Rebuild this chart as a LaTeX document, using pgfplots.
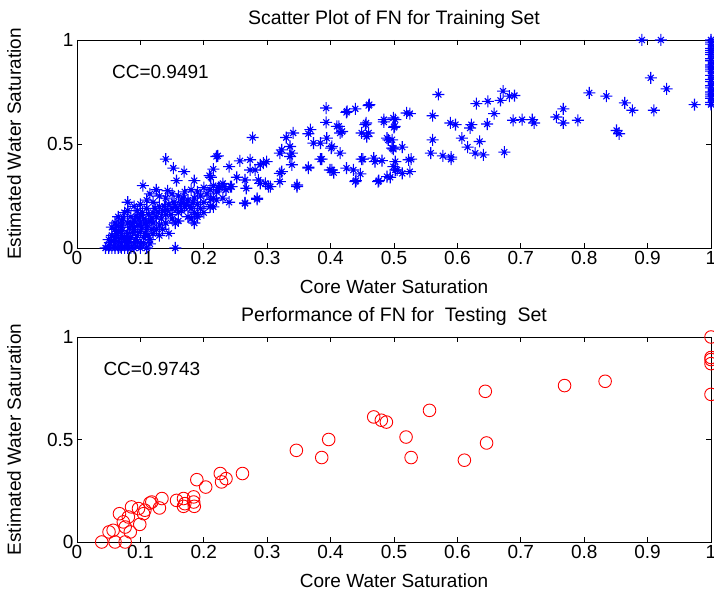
\documentclass[border=0pt]{standalone}
\usepackage{fontspec}
\setmainfont{Liberation Sans}
\usepackage{pgfplots}
\pgfplotsset{compat=1.18}
\definecolor{mblue}{rgb}{0,0,1}
\definecolor{mred}{rgb}{1,0,0}

% MATLAB style asterisk: a plus with a shorter cross on top
\pgfdeclareplotmark{mstar}{%
  \pgfpathmoveto{\pgfqpoint{-\pgfplotmarksize}{0pt}}%
  \pgfpathlineto{\pgfqpoint{\pgfplotmarksize}{0pt}}%
  \pgfpathmoveto{\pgfqpoint{0pt}{-\pgfplotmarksize}}%
  \pgfpathlineto{\pgfqpoint{0pt}{\pgfplotmarksize}}%
  \pgfpathmoveto{\pgfqpoint{-0.5\pgfplotmarksize}{-0.5\pgfplotmarksize}}%
  \pgfpathlineto{\pgfqpoint{0.5\pgfplotmarksize}{0.5\pgfplotmarksize}}%
  \pgfpathmoveto{\pgfqpoint{-0.5\pgfplotmarksize}{0.5\pgfplotmarksize}}%
  \pgfpathlineto{\pgfqpoint{0.5\pgfplotmarksize}{-0.5\pgfplotmarksize}}%
  \pgfusepathqstroke}

\pgfplotsset{
  mstyle/.style={
    scale only axis, width=634pt, clip=false,
    xmin=0, xmax=1, ymin=0, ymax=1,
    xtick={0,0.1,...,1}, ytick={0,0.5,1},
    tick align=inside, major tick length=5pt,
    axis line style={line width=0.8pt},
    every tick/.style={line width=0.8pt, black},
    font=\fontsize{19}{21}\selectfont,
    /pgf/number format/assume math mode=true,
    xticklabel style={font=\fontsize{19}{21}\selectfont},
    yticklabel style={font=\fontsize{19}{21}\selectfont},
    every axis title shift=0pt,
    title style={at={(axis description cs:0.5,1)}, anchor=base, yshift=15pt,
      font=\fontsize{19.5}{21}\selectfont},
    xlabel style={at={(axis description cs:0.5,0)}, anchor=base, yshift=-46pt},
    ylabel style={at={(axis description cs:0,0.5)}, anchor=base, yshift=56pt},
    xlabel={Core Water Saturation},
    ylabel={Estimated Water Saturation},
  }
}

\begin{document}
\begin{tikzpicture}
\begin{axis}[mstyle, at={(77pt,345pt)}, anchor=south west, height=208pt,
  title={Scatter Plot of FN for Training Set}]
\addplot[only marks, mark=mstar, mark size=6pt, mblue, line width=1.1pt] coordinates {
(0.045,0) (0.05,0) (0.055,0) (0.06,0) (0.065,0) (0.07,0) (0.075,0) (0.08,0)
(0.085,0) (0.09,0) (0.1,0) (0.11,0) (0.155,0) (0.05,0.01) (0.06,0.015) (0.07,0.02)
(0.08,0.01) (0.09,0.02) (0.1,0.015) (0.115,0.02)
(0.05,0.04) (0.055,0.06) (0.06,0.05) (0.065,0.08) (0.07,0.06) (0.075,0.04) (0.08,0.07)
(0.085,0.05) (0.09,0.09) (0.095,0.06) (0.1,0.08) (0.105,0.05) (0.11,0.1) (0.12,0.07)
(0.125,0.09) (0.13,0.06) (0.06,0.09) (0.07,0.1) (0.065,0.03) (0.115,0.04)
(0.052,0.025) (0.058,0.035) (0.062,0.07) (0.068,0.045) (0.072,0.085) (0.078,0.055)
(0.082,0.03) (0.088,0.075) (0.092,0.04) (0.096,0.11) (0.102,0.1) (0.108,0.07)
(0.112,0.06) (0.118,0.09) (0.055,0.1) (0.063,0.11) (0.073,0.14) (0.083,0.1)
(0.087,0.12) (0.093,0.15) (0.098,0.14) (0.103,0.17) (0.108,0.12) (0.113,0.16)
(0.118,0.14) (0.123,0.19) (0.128,0.17) (0.133,0.14) (0.138,0.2) (0.143,0.18)
(0.148,0.16) (0.153,0.22) (0.158,0.19) (0.163,0.21) (0.168,0.24) (0.173,0.21)
(0.178,0.2) (0.183,0.22) (0.068,0.005) (0.078,0.025) (0.095,0.03) (0.105,0.025)
(0.06,0.12) (0.065,0.15) (0.07,0.13) (0.075,0.17) (0.08,0.12) (0.085,0.15) (0.09,0.13)
(0.095,0.18) (0.1,0.12) (0.1,0.16) (0.105,0.14) (0.11,0.19) (0.115,0.13) (0.12,0.17)
(0.125,0.15) (0.13,0.2) (0.135,0.18) (0.14,0.16) (0.145,0.21) (0.15,0.19) (0.155,0.2)
(0.16,0.17) (0.165,0.22) (0.17,0.2) (0.175,0.23) (0.18,0.19) (0.185,0.24) (0.19,0.21)
(0.195,0.25) (0.2,0.22) (0.07,0.11) (0.08,0.18) (0.09,0.1) (0.11,0.11) (0.12,0.12)
(0.13,0.11) (0.14,0.12) (0.15,0.14) (0.16,0.13) (0.135,0.09) (0.145,0.07) (0.155,0.12)
(0.175,0.15) (0.185,0.17) (0.195,0.19)
(0.1,0.21) (0.11,0.23) (0.12,0.22) (0.13,0.25) (0.14,0.24) (0.15,0.26) (0.16,0.25)
(0.17,0.27) (0.18,0.28) (0.19,0.27) (0.2,0.29) (0.205,0.26) (0.21,0.28) (0.215,0.3)
(0.22,0.27) (0.225,0.29) (0.23,0.31) (0.235,0.28) (0.125,0.28) (0.09,0.2) (0.08,0.22)
(0.115,0.26) (0.165,0.18) (0.19,0.15) (0.2,0.17) (0.21,0.2) (0.22,0.23) (0.23,0.24)
(0.24,0.22) (0.18,0.14) (0.19,0.16) (0.185,0.12) (0.21,0.198) (0.215,0.24)
(0.140,0.427) (0.152,0.384) (0.169,0.367) (0.157,0.324) (0.185,0.324) (0.104,0.300)
(0.143,0.275) (0.222,0.443) (0.215,0.379) (0.211,0.340) (0.240,0.391) (0.223,0.292)
(0.232,0.295) (0.244,0.295) (0.211,0.234) (0.215,0.198) (0.265,0.217) (0.284,0.234)
(0.277,0.531) (0.393,0.673) (0.425,0.652) (0.439,0.669) (0.461,0.689) (0.393,0.604)
(0.368,0.569) (0.365,0.549) (0.341,0.553) (0.330,0.531) (0.410,0.585) (0.418,0.560)
(0.384,0.504) (0.394,0.528) (0.401,0.480) (0.415,0.456) (0.386,0.427) (0.455,0.593)
(0.449,0.553) (0.460,0.553) (0.457,0.536) (0.484,0.606) (0.502,0.617) (0.500,0.580)
(0.520,0.649) (0.491,0.520) (0.499,0.475) (0.513,0.485) (0.323,0.472) (0.339,0.456)
(0.320,0.456) (0.339,0.400) (0.365,0.384) (0.323,0.367) (0.399,0.375) (0.405,0.362)
(0.425,0.384) (0.436,0.375) (0.447,0.356) (0.440,0.324) (0.451,0.427) (0.468,0.432)
(0.470,0.415) (0.481,0.420) (0.499,0.391) (0.505,0.375) (0.513,0.359) (0.494,0.340)
(0.476,0.324) (0.523,0.424) (0.347,0.295) (0.320,0.319) (0.305,0.295) (0.284,0.239)
(0.265,0.214) (0.294,0.408) (0.299,0.415) (0.289,0.400) (0.281,0.375) (0.273,0.375)
(0.273,0.424) (0.257,0.419) (0.252,0.340) (0.265,0.327) (0.267,0.287) (0.286,0.327)
(0.297,0.311) (0.302,0.295) (0.242,0.295) (0.220,0.440) (0.209,0.348) (0.347,0.303)
(0.365,0.388) (0.384,0.427) (0.402,0.375) (0.439,0.319) (0.449,0.427) (0.475,0.319)
(0.489,0.343) (0.489,0.528) (0.499,0.480) (0.460,0.685) (0.426,0.657) (0.456,0.601)
(0.413,0.585) (0.415,0.553) (0.402,0.488) (0.373,0.504) (0.336,0.488) (0.336,0.440)
(0.320,0.359) (0.289,0.311) (0.484,0.617) (0.499,0.625) (0.501,0.585)
(0.502,0.375) (0.525,0.367) (0.527,0.427) (0.502,0.415) (0.497,0.480) (0.497,0.520)
(0.525,0.646) (0.561,0.636) (0.570,0.738) (0.561,0.520) (0.558,0.456) (0.577,0.443)
(0.590,0.437) (0.590,0.427) (0.589,0.601) (0.597,0.593) (0.607,0.528) (0.616,0.485)
(0.628,0.456) (0.641,0.448) (0.635,0.512) (0.622,0.593) (0.620,0.577) (0.647,0.596)
(0.658,0.646) (0.630,0.694) (0.648,0.705) (0.668,0.710) (0.672,0.754) (0.682,0.730)
(0.690,0.733) (0.674,0.461) (0.688,0.614) (0.702,0.617) (0.718,0.617) (0.721,0.601)
(0.756,0.630) (0.767,0.669) (0.767,0.601) (0.790,0.614) (0.808,0.746) (0.835,0.730)
(0.851,0.565) (0.855,0.549) (0.864,0.698) (0.876,0.662) (0.891,1.0) (0.921,1.0)
(0.905,0.818) (0.930,0.765) (0.910,0.662) (0.974,0.689)
(1,0.69) (1,0.7) (1,0.72) (1,0.73) (1,0.74) (1,0.75) (1,0.77) (1,0.78) (1,0.8)
(1,0.81) (1,0.83) (1,0.85) (1,0.86) (1,0.87) (1,0.88) (1,0.9) (1,0.91) (1,0.93)
(1,0.94) (1,0.95) (1,0.96) (1,0.98) (1,0.99) (1,1)
};
\node[anchor=base west, inner sep=0pt] at (axis cs:0.055,0.813) {CC=0.9491};
\end{axis}

\begin{axis}[mstyle, at={(77pt,51pt)}, anchor=south west, height=205pt,
  title={Performance of FN for\ \ Testing\ \ Set}]
\addplot[only marks, mark=o, mark size=6.3pt, mred, line width=0.9pt] coordinates {
(0.039,0.0) (0.0505,0.049) (0.060,0.0) (0.076,0.0) (0.057,0.057) (0.067,0.138)
(0.073,0.098) (0.076,0.073) (0.084,0.049) (0.081,0.122) (0.086,0.171) (0.097,0.163)
(0.099,0.086) (0.105,0.138) (0.107,0.155) (0.115,0.19) (0.118,0.195) (0.130,0.166)
(0.134,0.212) (0.157,0.203) (0.168,0.212) (0.168,0.174) (0.170,0.187) (0.184,0.22)
(0.184,0.195) (0.185,0.174) (0.189,0.304) (0.203,0.268) (0.226,0.334) (0.228,0.293)
(0.235,0.309) (0.261,0.334) (0.346,0.447) (0.386,0.412) (0.397,0.5) (0.468,0.61)
(0.480,0.594) (0.488,0.585) (0.519,0.512) (0.527,0.412) (0.556,0.642) (0.611,0.399)
(0.644,0.735) (0.646,0.483) (0.769,0.763) (0.833,0.784)
(1,1.0) (1,0.9) (1,0.89) (1,0.87) (1,0.72)
};
\node[anchor=base west, inner sep=0pt] at (axis cs:0.0415,0.813) {CC=0.9743};
\end{axis}
\pgfresetboundingbox
\path (0,0) rectangle (714pt,593pt);
\end{tikzpicture}
\end{document}
